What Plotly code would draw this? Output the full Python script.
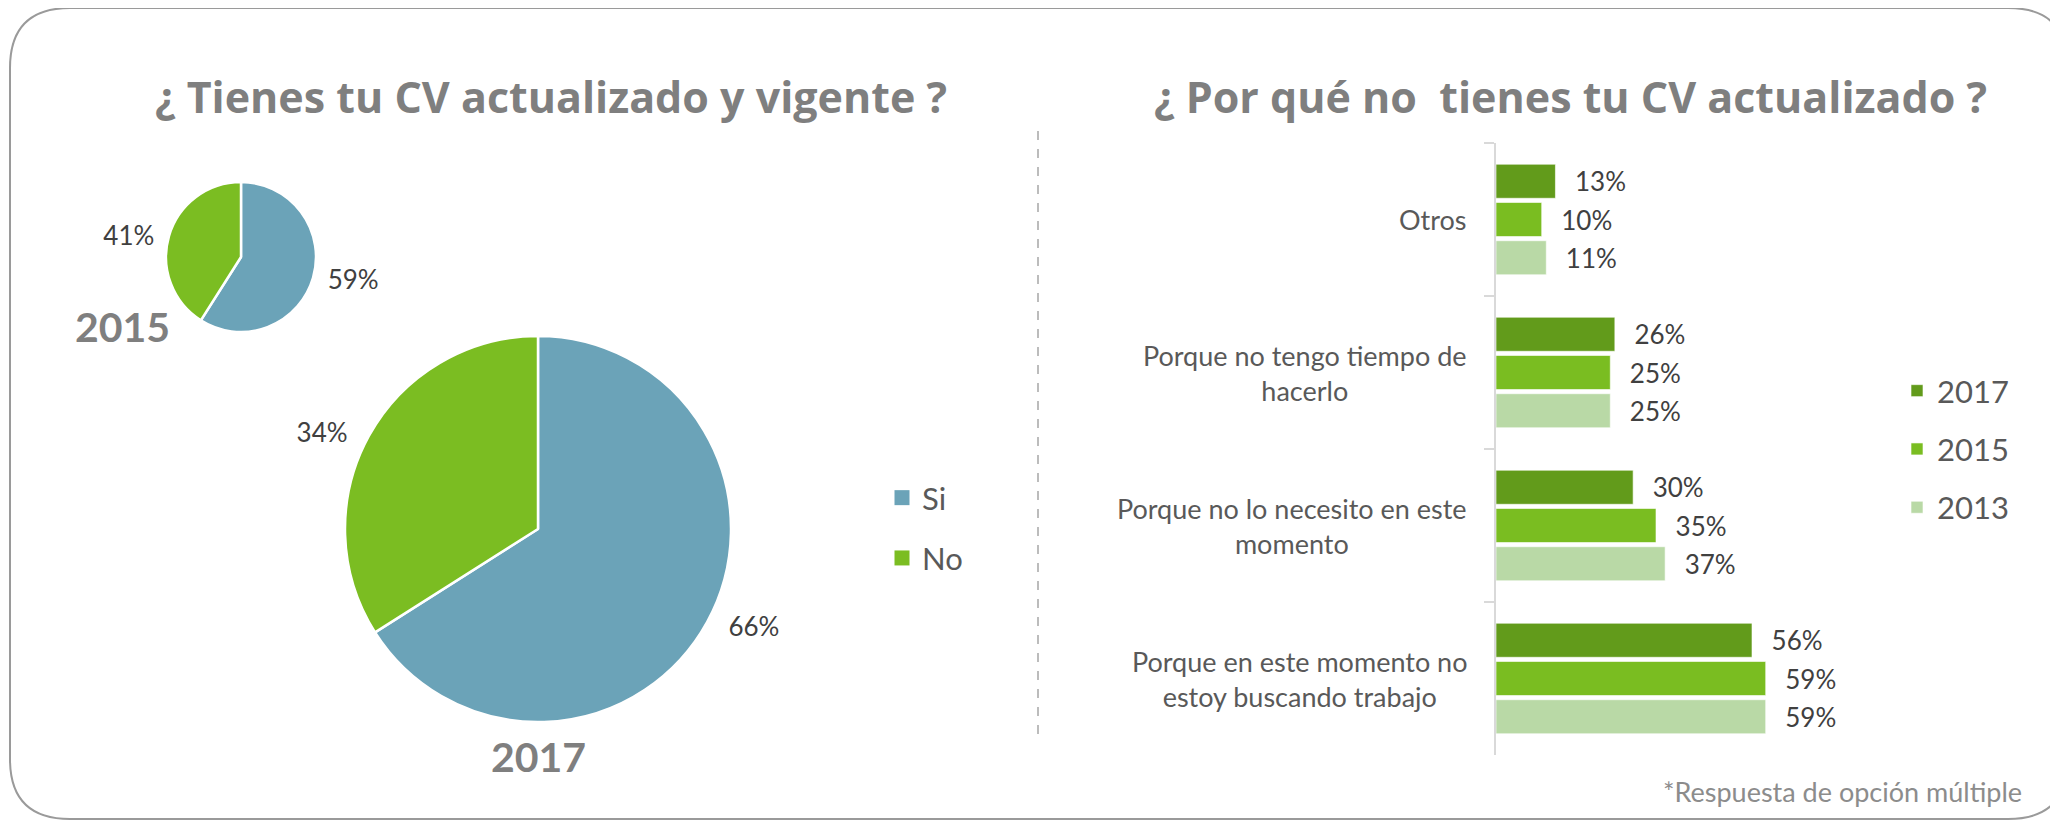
import plotly.graph_objects as go

W, H = 2058, 821
OFF = 8  # page body margin: the figure is drawn 8px right/down in the window

# ---------------- data ----------------
pie_labels = ["Si", "No"]
pie_2015 = [59, 41]
pie_2017 = [66, 34]
pie_colors = ["#6BA3B8", "#7BBD22"]

categories = [
    "Otros",
    "Porque no tengo tiempo de<br>hacerlo",
    "Porque no lo necesito en este<br>momento",
    "Porque en este momento no<br>estoy buscando trabajo",
]
years = ["2017", "2015", "2013"]
vals_2017 = [13, 26, 30, 56]
vals_2015 = [10, 25, 35, 59]
vals_2013 = [11, 25, 37, 59]
bar_series = [vals_2017, vals_2015, vals_2013]
bar_colors = ["#629B1B", "#7ABD21", "#B9D9A6"]

title_left = "¿ Tienes tu CV actualizado y vigente ?"
title_right = "¿ Por qué no  tienes tu CV actualizado ?"
footnote = "*Respuesta de opción múltiple"

FONT = "Lato, 'Open Sans', sans-serif"
TITLE_FONT = "'Open Sans', Lato, sans-serif"
NB = "\u00a0"


def px(x):
    return (x - OFF) / W


def py(y):
    return 1 - (y - OFF) / H


fig = go.Figure()

# ---------------- pies ----------------
def add_pie(values, cx, cy, r, name, pad):
    # labels on the right get padding in front, labels on the left behind
    texts = [NB * pad + f"{values[0]}%", f"{values[1]}%" + NB * pad]
    fig.add_trace(go.Pie(
        labels=pie_labels, values=values, name=name,
        sort=False, direction="clockwise", rotation=0,
        marker=dict(colors=pie_colors, line=dict(color="white", width=2.5)),
        text=texts, textinfo="text", textposition="outside",
        textfont=dict(family=FONT, size=26, color="#404040"),
        domain=dict(x=[px(cx - r), px(cx + r)], y=[py(cy + r), py(cy - r)]),
        showlegend=False, hoverinfo="label+percent",
    ))


add_pie(pie_2015, 241, 257, 75, "2015", 1)
add_pie(pie_2017, 538, 529, 193, "2017", 2)

# ---------------- bars ----------------
for yr, vals, col in zip(years, bar_series, bar_colors):
    fig.add_trace(go.Bar(
        y=categories, x=vals, orientation="h", name=yr,
        marker=dict(color=col, line=dict(color="rgba(255,255,255,0.6)", width=1)),
        text=[f"{NB}{NB}\u2009{v}%" for v in vals],
        textposition="outside", cliponaxis=False, constraintext="none",
        textfont=dict(family=FONT, size=26, color="#404040"),
        legend="legend2", legendgroup=yr,
    ))

# legend keys for the pie slices (Si / No)
for lbl, col in zip(pie_labels, pie_colors):
    fig.add_trace(go.Scatter(
        x=[None], y=[None], mode="markers", name=lbl,
        marker=dict(symbol="square", size=15, color=col),
        legend="legend", legendgroup=lbl, showlegend=True, hoverinfo="skip",
    ))

fig.update_layout(
    width=W, height=H,
    margin=dict(l=0, r=0, t=0, b=0),
    paper_bgcolor="white", plot_bgcolor="white",
    font=dict(family=FONT, color="#595959"),
    barmode="group", bargap=0.25, bargroupgap=0.11,
    xaxis=dict(domain=[px(1496), px(1816)], range=[0, 70], visible=False),
    yaxis=dict(
        domain=[py(755), py(143)], type="category",
        categoryorder="array", categoryarray=categories,
        autorange="reversed",
        showline=True, linecolor="#d9d9d9", linewidth=1.5,
        ticks="outside", tickson="boundaries", ticklen=10, tickcolor="#d9d9d9",
        tickwidth=1.5, showticklabels=False, showgrid=False, zeroline=False,
    ),
    legend=dict(
        x=px(882), y=py(528), xanchor="left", yanchor="middle",
        font=dict(family=FONT, size=31, color="#595959"),
        bgcolor="rgba(0,0,0,0)", tracegroupgap=17, traceorder="grouped",
    ),
    legend2=dict(
        x=px(1897), y=py(449), xanchor="left", yanchor="middle",
        font=dict(family=FONT, size=31, color="#595959"),
        bgcolor="rgba(0,0,0,0)", tracegroupgap=15, traceorder="grouped",
    ),
    showlegend=True,
)

# category labels (centered lines, right-aligned against axis)
for cat in categories:
    fig.add_annotation(
        x=0, xref="x domain", y=cat, yref="y", text=cat,
        xanchor="right", yanchor="middle", align="center", xshift=-27,
        showarrow=False, font=dict(family=FONT, size=27, color="#595959"),
    )

# titles
for txt, cx in [(title_left, 551), (title_right, 1570)]:
    fig.add_annotation(
        x=px(cx), y=py(96), xref="paper", yref="paper", text=txt,
        showarrow=False, xanchor="center", yanchor="middle",
        font=dict(family=TITLE_FONT, size=43, color="#7F7F7F", weight="bold"),
    )

# year labels for pies
for txt, cx, cy in [("2015", 122, 326), ("2017", 538, 756)]:
    fig.add_annotation(
        x=px(cx), y=py(cy), xref="paper", yref="paper", text=txt,
        showarrow=False, xanchor="center", yanchor="middle",
        font=dict(family=FONT, size=41, color="#7F7F7F", weight="bold"),
    )

# footnote
fig.add_annotation(
    x=px(2024), y=py(791), xref="paper", yref="paper", text=footnote,
    showarrow=False, xanchor="right", yanchor="middle",
    font=dict(family=FONT, size=27, color="#8C8C8C"),
)

# dashed separator
fig.add_shape(type="line", xref="paper", yref="paper",
              x0=px(1038), x1=px(1038), y0=py(131), y1=py(735),
              line=dict(color="#A6A6A6", width=1.5, dash="dash"))

# rounded border
L, R, T, B, rr = 10, 2068, 8, 819, 60
path = (
    f"M {px(L + rr)},{py(T)} L {px(R - rr)},{py(T)} "
    f"Q {px(R)},{py(T)} {px(R)},{py(T + rr)} "
    f"L {px(R)},{py(B - rr)} Q {px(R)},{py(B)} {px(R - rr)},{py(B)} "
    f"L {px(L + rr)},{py(B)} Q {px(L)},{py(B)} {px(L)},{py(B - rr)} "
    f"L {px(L)},{py(T + rr)} Q {px(L)},{py(T)} {px(L + rr)},{py(T)} Z"
)
fig.add_shape(type="path", xref="paper", yref="paper", path=path,
              line=dict(color="#9A9A9A", width=2), fillcolor="rgba(0,0,0,0)")

fig.write_html("out.html")
